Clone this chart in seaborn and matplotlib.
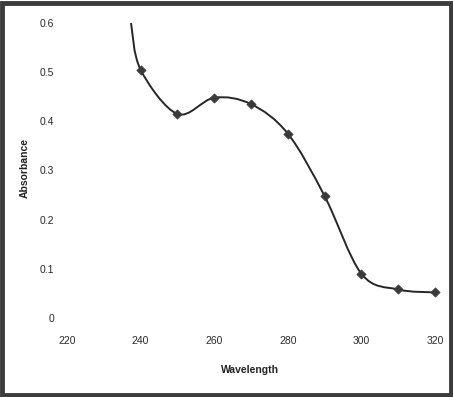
import numpy as np
import pandas as pd
import seaborn as sns
import matplotlib
matplotlib.use("Agg")
import matplotlib.pyplot as plt
from matplotlib.path import Path
from matplotlib.patches import PathPatch, Rectangle

# ---- data ----
wavelength = [240, 250, 260, 270, 280, 290, 300, 310, 320]
absorbance = [0.505, 0.415, 0.448, 0.435, 0.375, 0.248, 0.090, 0.058, 0.052]
curve_start_wavelength = [237.4]
curve_start_absorbance = [0.600]
x_ticks = [220, 240, 260, 280, 300, 320]
y_ticks = [0, 0.1, 0.2, 0.3, 0.4, 0.5, 0.6]
y_tick_labels = ["0", "0.1", "0.2", "0.3", "0.4", "0.5", "0.6"]
x_title = "Wavelength"
y_title = "Absorbance"

sns.set_theme(style="white")
plt.rcParams['font.family'] = ['Liberation Sans', 'DejaVu Sans']

fig = plt.figure(figsize=(4.53, 3.97), dpi=100)
ax = fig.add_axes([67/453, 1-318/397, (435-67)/453, (318-23)/397])

df = pd.DataFrame({"Wavelength": wavelength, "Absorbance": absorbance})

# smoothed line (Catmull-Rom -> cubic Bezier segments, drawn in data coords)
xs = np.array(curve_start_wavelength + wavelength, dtype=float)
ys = np.array(curve_start_absorbance + absorbance, dtype=float)
P = np.column_stack([xs, ys])
verts = [P[0]]
codes = [Path.MOVETO]
n = len(P)
for i in range(n - 1):
    p0 = P[i - 1] if i > 0 else P[i]
    p1 = P[i]
    p2 = P[i + 1]
    p3 = P[i + 2] if i + 2 < n else P[i + 1]
    c1 = p1 + (p2 - p0) / 6.0
    c2 = p2 - (p3 - p1) / 6.0
    verts += [c1, c2, p2]
    codes += [Path.CURVE4] * 3
ax.add_patch(PathPatch(Path(verts, codes), fill=False, edgecolor="#262626",
                       linewidth=1.4, transform=ax.transData, zorder=2, clip_on=False))

sns.scatterplot(data=df, x="Wavelength", y="Absorbance", marker="D", s=22,
                color="#3a3a3a", edgecolor="#3a3a3a", linewidth=0.5, ax=ax, zorder=3,
                clip_on=False)

ax.set_xlim(220, 320)
ax.set_ylim(0, 0.6)
ax.set_xticks(x_ticks)
ax.set_xticklabels([str(t) for t in x_ticks])
ax.set_yticks(y_ticks)
ax.set_yticklabels(y_tick_labels)
ax.tick_params(axis="x", length=0, pad=13, labelsize=7.5, labelcolor="#2a2a2a")
ax.tick_params(axis="y", length=0, pad=9, labelsize=7.5, labelcolor="#2a2a2a")
for s in ax.spines.values():
    s.set_visible(False)
ax.grid(False)
ax.set_xlabel(x_title, fontsize=7.5, fontweight="bold", color="#222222")
ax.set_ylabel(y_title, fontsize=7.5, fontweight="bold", color="#222222")
ax.xaxis.set_label_coords((250-67)/368, -(365-318)/295)
ax.yaxis.set_label_coords(-(67-30)/368, (318-168)/295)

# scanned frame border
fig.add_artist(Rectangle((2/453, 2/397), 449/453, 392/397, transform=fig.transFigure,
                         fill=False, edgecolor="#3c3c3c", linewidth=3.5))

fig.savefig("out.png", dpi=100)
